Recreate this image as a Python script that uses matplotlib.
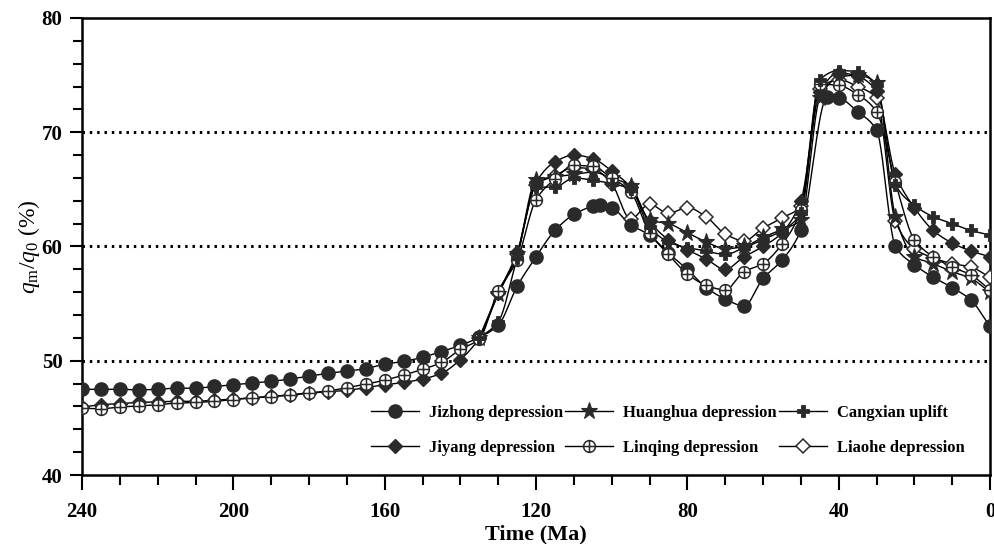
import numpy as np
import matplotlib
matplotlib.use("Agg")
import matplotlib.pyplot as plt
from matplotlib.path import Path

plt.rcParams['font.family'] = ['Liberation Serif', 'DejaVu Serif']
plt.rcParams['mathtext.fontset'] = 'custom'
plt.rcParams['mathtext.rm'] = 'Liberation Serif'
plt.rcParams['mathtext.it'] = 'Liberation Serif:italic'

# ---------------- data ----------------
t_early = [240, 235, 230, 225, 220, 215, 210, 205, 200, 195, 190, 185, 180,
           175, 170, 165, 160, 155, 150, 145, 140, 135, 130]

jizhong_t = t_early + [125, 120, 115, 110, 105, 103, 100, 95, 90, 85, 80, 75, 70,
                       65, 60, 55, 50, 43, 40, 35, 30, 25, 20, 15, 10, 5, 0]
jizhong_v = [47.5, 47.5, 47.5, 47.45, 47.5, 47.6, 47.6, 47.75, 47.9, 48.05, 48.2,
             48.4, 48.65, 48.9, 49.1, 49.3, 49.7, 49.95, 50.3, 50.8, 51.35, 52.05, 53.1,
             56.5, 59.1, 61.4, 62.8, 63.5, 63.6, 63.4, 61.9, 61.0, 59.4, 58.0, 56.4, 55.4,
             54.8, 57.2, 58.8, 61.4, 73.1, 73.0, 71.8, 70.2, 60.0, 58.4, 57.3, 56.4, 55.3, 53.0]

t_late = [125, 120, 115, 110, 105, 100, 95, 90, 85, 80, 75, 70, 65, 60, 55, 50,
          45, 40, 35, 30, 25, 20, 15, 10, 5, 0]

jiyang_t = t_early + t_late
jiyang_v = [45.95, 46.15, 46.25, 46.35, 46.4, 46.45, 46.45, 46.55, 46.65, 46.75, 46.9,
            47.0, 47.15, 47.3, 47.4, 47.65, 47.9, 48.1, 48.4, 48.9, 50.1, 52.0, 55.9,
            59.5, 65.6, 67.4, 68.0, 67.7, 66.6, 65.2, 62.2, 60.6, 59.7, 58.9, 58.0, 59.1,
            60.0, 61.2, 64.0, 73.5, 75.2, 74.9, 73.6, 66.3, 63.4, 61.4, 60.3, 59.6, 59.1]

linqing_t = t_early + t_late
linqing_v = [45.85, 45.8, 45.95, 46.05, 46.15, 46.3, 46.35, 46.45, 46.6, 46.75, 46.85,
             47.0, 47.2, 47.35, 47.65, 47.95, 48.3, 48.75, 49.25, 49.85, 51.0, 51.9, 56.1,
             58.8, 64.1, 65.9, 67.1, 67.0, 66.0, 64.8, 61.2, 59.3, 57.6, 56.6, 56.2, 57.8,
             58.5, 60.2, 63.2, 74.2, 74.1, 73.3, 71.8, 65.6, 60.6, 59.1, 58.2, 57.5, 56.2]

huanghua_t = [135, 130] + t_late
huanghua_v = [52.0, 55.8, 59.3, 65.8, 66.1, 66.3, 66.5, 66.0, 65.3, 62.3, 62.0, 61.2,
              60.4, 59.8, 60.0, 60.8, 61.5, 62.3, 73.0, 74.8, 75.0, 74.3, 62.6, 59.1,
              58.5, 57.8, 57.2, 56.0]

cangxian_t = [135, 130] + t_late
cangxian_v = [52.0, 53.4, 59.0, 65.2, 65.2, 66.0, 65.8, 65.5, 65.0, 61.7, 60.4, 59.9,
              59.6, 59.3, 59.9, 60.6, 61.4, 62.9, 74.6, 75.4, 75.3, 74.1, 65.4, 63.6,
              62.6, 62.0, 61.4, 61.0]

liaohe_t = [135, 130] + t_late
liaohe_v = [52.0, 55.9, 59.3, 65.4, 66.2, 66.9, 66.8, 65.5, 62.4, 63.7, 62.9, 63.4,
            62.6, 61.1, 60.5, 61.6, 62.5, 63.5, 73.8, 74.6, 74.0, 73.0, 62.2, 59.8,
            59.0, 58.5, 58.2, 57.3]

labels = ["Jizhong depression", "Jiyang depression", "Huanghua depression",
          "Linqing depression", "Cangxian uplift", "Liaohe depression"]

x_ticks = [240, 200, 160, 120, 80, 40, 0]
y_ticks = [40, 50, 60, 70, 80]
grid_levels = [50, 60, 70]


# ---------------- helpers ----------------
def pchip(x, y, xn):
    x = np.asarray(x, float)
    y = np.asarray(y, float)
    h = np.diff(x)
    d = np.diff(y) / h
    n = len(x)
    m = np.zeros(n)
    for k in range(1, n - 1):
        if d[k - 1] * d[k] <= 0:
            m[k] = 0.0
        else:
            w1 = 2 * h[k] + h[k - 1]
            w2 = h[k] + 2 * h[k - 1]
            m[k] = (w1 + w2) / (w1 / d[k - 1] + w2 / d[k])
    m[0] = d[0]
    m[-1] = d[-1]
    idx = np.clip(np.searchsorted(x, xn) - 1, 0, n - 2)
    hh = h[idx]
    s = (xn - x[idx]) / hh
    h00 = 2 * s**3 - 3 * s**2 + 1
    h10 = s**3 - 2 * s**2 + s
    h01 = -2 * s**3 + 3 * s**2
    h11 = s**3 - s**2
    return h00 * y[idx] + h10 * hh * m[idx] + h01 * y[idx + 1] + h11 * hh * m[idx + 1]


def smooth(t, v):
    t = np.asarray(t, float)
    v = np.asarray(v, float)
    o = np.argsort(t)
    t, v = t[o], v[o]
    tn = np.linspace(t[0], t[-1], 1200)
    return tn, pchip(t, v, tn)


circ = Path.unit_circle()
oplus = Path.make_compound_path(
    circ,
    Path([[-1, 0], [1, 0]], [Path.MOVETO, Path.LINETO]),
    Path([[0, -1], [0, 1]], [Path.MOVETO, Path.LINETO]),
)

mk = '#2a2a2a'
# (times, values, style, marker zorder)
series = [
    (jizhong_t, jizhong_v, dict(marker='o', ms=9.5, mfc=mk, mec=mk, mew=1.0), 3.2),
    (jiyang_t, jiyang_v, dict(marker='D', ms=7.2, mfc=mk, mec=mk, mew=1.0), 3.3),
    (huanghua_t, huanghua_v, dict(marker='*', ms=12.5, mfc=mk, mec=mk, mew=0.8), 3.4),
    (linqing_t, linqing_v, dict(marker=oplus, ms=8.5, mfc='white', mec=mk, mew=1.1), 3.5),
    (cangxian_t, cangxian_v, dict(marker='P', ms=9, mfc=mk, mec=mk, mew=0.6), 3.6),
    (liaohe_t, liaohe_v, dict(marker='D', ms=6.8, mfc='white', mec=mk, mew=1.1), 3.0),
]

fig = plt.figure(figsize=(9.94, 5.44), dpi=100)
ax = fig.add_axes([0.0825, 0.1268, 0.9135, 0.8402])

for lv in grid_levels:
    ax.axhline(lv, color='black', lw=2.2, ls=(0, (0.8, 1.6)), zorder=1)

handles = []
for (t, v, st, zo), lab in zip(series, labels):
    tn, vn = smooth(t, v)
    ax.plot(tn, vn, color='black', lw=1.0, zorder=2)
    ax.plot(t, v, ls='none', zorder=zo, **st)
    h, = ax.plot([], [], color='black', lw=1.0, **st)
    handles.append(h)

ax.set_xlim(240, 0)
ax.set_ylim(40, 80)
ax.set_xticks(x_ticks)
ax.set_xticks(np.arange(0, 241, 10), minor=True)
ax.set_yticks(y_ticks)
ax.set_yticks(np.arange(40, 81, 2), minor=True)
ax.tick_params(axis='both', which='both', direction='out', width=1.5, color='black')
ax.tick_params(axis='x', which='major', length=10.5, labelsize=15, pad=9)
ax.tick_params(axis='x', which='minor', length=7)
ax.tick_params(axis='y', which='major', length=9, labelsize=15, pad=5)
ax.tick_params(axis='y', which='minor', length=6.5)
for lbl in ax.get_xticklabels() + ax.get_yticklabels():
    lbl.set_fontweight('bold')
for sp in ax.spines.values():
    sp.set_linewidth(1.8)

ax.set_xlabel('Time (Ma)', fontsize=16, fontweight='bold', labelpad=2)
ax.set_ylabel(r'$q_{\mathrm{m}}/q_{0}$ (%)', fontsize=17, labelpad=0)

leg = ax.legend(handles, labels, ncol=3, loc='upper left',
                bbox_to_anchor=(0.309, 0.171), frameon=False, borderpad=0,
                handlelength=2.9, handletextpad=0.6, columnspacing=0.1,
                labelspacing=1.1, prop={'family': 'Liberation Serif',
                                        'weight': 'bold', 'size': 12})

fig.savefig('out.png', dpi=100)
